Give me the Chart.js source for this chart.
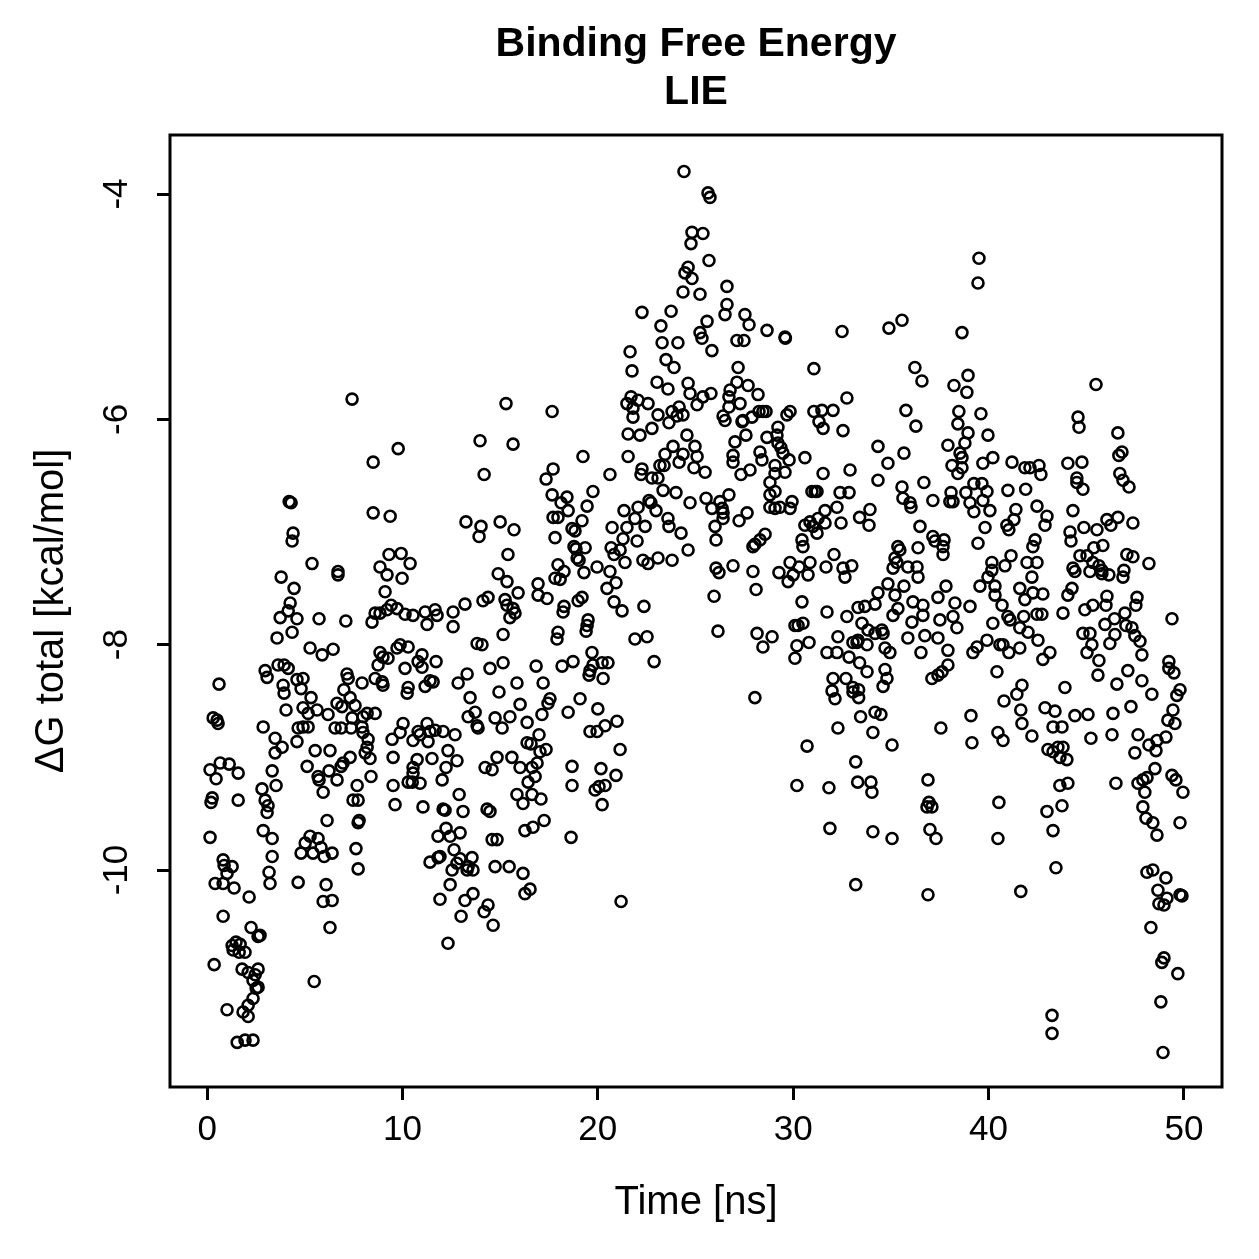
<!DOCTYPE html>
<html>
<head>
<meta charset="utf-8">
<script src="https://cdn.jsdelivr.net/npm/chart.js@4/dist/chart.umd.min.js"></script>
<style>
	html, body { margin: 0; padding: 0; background: #fff; }
	canvas { display: block; }
</style>
</head>
<body>
<canvas id="lie" width="1259" height="1259"></canvas>
<script>
// Titles and ticks
const titleLines = [ 'Binding Free Energy', 'LIE' ];
const xTitle = 'Time [ns]';
const yTitle = '\u0394G total [kcal/mol]';
const xTicks = [ 0, 10, 20, 30, 40, 50 ];
const yTicks = [ -10, -8, -6, -4 ];

// [time (ns), dG total (kcal/mol)], in time slices
const run00to08 = [
	[0.61,-8.35],[0.31,-8.65],[0.51,-8.67],[0.56,-8.70],[0.15,-9.11],[0.67,-9.05],[1.13,-9.06],[1.59,-9.14],[0.46,-9.19],[0.26,-9.36],
	[0.2,-9.4],[1.59,-9.38],[0.15,-9.71],[0.82,-9.91],[0.87,-9.96],[1.28,-9.97],[1.02,-10.03],[0.41,-10.12],[0.82,-10.12],[1.38,-10.16],
	[2.15,-10.24],[0.82,-10.41],[2.25,-10.51],[2.61,-10.59],[2.71,-10.58],[1.28,-10.67],[1.48,-10.64],[1.69,-10.66],[1.33,-10.71],[1.64,-10.73],
	[1.94,-10.73],[0.36,-10.84],[1.79,-10.88],[2.1,-10.91],[2.61,-10.88],[2.46,-10.93],[2.35,-10.98],[2.61,-11.04],[2.51,-11.05],[2.35,-11.14],
	[2.1,-11.2],[1.02,-11.24],[1.84,-11.26],[2.1,-11.3],[1.54,-11.53],[1.94,-11.51],[2.35,-11.51],
	[7.42,-5.82],[4.2,-6.73],[4.3,-6.74],[4.4,-7.01],[4.35,-7.08],[5.37,-7.28],[6.7,-7.35],[6.7,-7.38],[3.79,-7.40],[4.45,-7.5],
	[4.25,-7.63],[4.15,-7.70],[3.74,-7.76],[4.6,-7.77],[5.73,-7.77],[7.1,-7.79],[3.58,-7.94],[4.35,-7.89],[5.27,-8.03],[5.89,-8.09],
	[6.45,-8.04],[2.97,-8.23],[3.07,-8.29],[3.63,-8.18],[3.94,-8.18],[4.15,-8.21],[4.6,-8.31],[4.91,-8.30],[3.89,-8.36],[3.94,-8.43],
	[4.81,-8.39],[5.32,-8.47],[7.16,-8.26],[7.22,-8.30],[7.93,-8.34],[7.0,-8.40],[7.32,-8.47],[6.65,-8.52],[6.9,-8.55],[7.57,-8.54],
	[7.42,-8.65],[4.91,-8.56],[5.17,-8.61],[5.63,-8.58],[6.19,-8.62],[4.04,-8.58],[2.87,-8.73],[4.66,-8.74],[4.91,-8.73],[5.17,-8.73],
	[6.55,-8.74],[6.86,-8.74],[7.37,-8.74],[7.93,-8.73],[3.48,-8.83],[3.84,-8.91],[3.48,-8.96],[4.6,-8.86],[5.53,-8.94],[6.29,-8.94],
	[7.32,-9.0],[6.96,-9.05],[6.86,-9.08],[5.12,-9.08],[6.24,-9.12],[5.68,-9.17],[5.73,-9.2],[6.65,-9.2],[5.94,-9.31],[3.33,-9.12],
	[3.53,-9.25],[2.81,-9.28],[2.97,-9.38],[3.12,-9.43],[3.07,-9.49],[7.68,-9.25],[7.47,-9.38],[7.73,-9.38],[7.78,-9.56],[7.73,-9.58],
	[6.14,-9.56],[2.87,-9.65],[3.33,-9.72],[3.33,-9.88],[3.17,-10.02],[3.22,-10.12],[5.27,-9.70],[5.02,-9.76],[5.68,-9.72],[5.83,-9.80],
	[4.81,-9.85],[5.42,-9.85],[5.99,-9.88],[6.4,-9.85],[7.62,-9.81],[7.73,-9.99],[4.66,-10.11],[6.09,-10.13],[5.94,-10.28],[6.4,-10.27],
	[6.29,-10.51],[5.48,-10.99]
];
const run08to16 = [
	[15.3,-5.86],[9.78,-6.26],[8.5,-6.38],[13.97,-6.19],[15.66,-6.22],[14.18,-6.49],[8.5,-6.83],[9.37,-6.86],[13.25,-6.91],[14.02,-6.95],
	[13.92,-7.04],[15.0,-6.91],[15.71,-6.98],[15.4,-7.20],[9.31,-7.20],[9.93,-7.19],[10.39,-7.28],[8.85,-7.31],[9.21,-7.38],[9.98,-7.41],
	[9.11,-7.53],[14.9,-7.37],[15.35,-7.44],[15.92,-7.54],[13.2,-7.64],[14.12,-7.61],[14.38,-7.58],[15.25,-7.60],[15.35,-7.65],[15.66,-7.68],
	[15.76,-7.72],[12.59,-7.71],[11.67,-7.69],[11.16,-7.71],[11.77,-7.74],[10.54,-7.74],[10.13,-7.73],[9.72,-7.68],[9.42,-7.65],[9.21,-7.69],
	[8.6,-7.72],[8.85,-7.72],[8.44,-7.80],[11.26,-7.82],[12.59,-7.84],[15.5,-7.76],[15.15,-7.91],
	[8.85,-8.07],[9.0,-8.11],[9.26,-8.12],[8.75,-8.18],[9.72,-8.03],[9.88,-8.0],[10.29,-8.02],[10.13,-8.21],[10.8,-8.15],[11.0,-8.09],
	[11.0,-8.2],[11.72,-8.15],[8.6,-8.3],[8.96,-8.33],[9.0,-8.36],[10.29,-8.38],[10.24,-8.43],[11.16,-8.37],[11.41,-8.32],[11.57,-8.33],
	[12.85,-8.34],[13.31,-8.26],[13.46,-8.47],[13.72,-8.60],[13.36,-8.64],[13.82,-8.72],[13.87,-8.74],[13.82,-7.99],[14.07,-8.0],[14.48,-8.21],
	[15.15,-8.16],[14.94,-8.42],[15.86,-8.34],[16.02,-8.53],[16.38,-8.69],[15.5,-8.64],[14.74,-8.65],[15.1,-8.74],
	[8.19,-8.61],[8.6,-8.61],[7.98,-8.64],[7.98,-8.78],[8.24,-8.84],[8.19,-8.91],[8.09,-8.96],[8.34,-9.01],[8.39,-9.17],
	[10.03,-8.70],[9.88,-8.78],[9.47,-8.84],[10.54,-8.85],[10.8,-8.77],[10.9,-8.80],[11.26,-8.70],[11.41,-8.77],[11.67,-8.76],[11.31,-8.86],
	[12.08,-8.77],[12.69,-8.80],[12.33,-8.94],[12.79,-9.03],[12.23,-9.09],[12.03,-9.20],[11.51,-9.01],[10.75,-9.02],[9.52,-9.0],[10.54,-9.09],
	[10.54,-9.14],[10.29,-9.22],[10.5,-9.22],[10.9,-9.23],[9.52,-9.25],[9.62,-9.42],[11.05,-9.44],[12.08,-9.46],[12.18,-9.47],[12.9,-9.33],
	[13.1,-9.48],[14.33,-9.46],[14.48,-9.48],[11.82,-9.70],[12.23,-9.63],[12.44,-9.70],[12.95,-9.67],[12.64,-9.82],[11.92,-9.88],[11.82,-9.89],
	[11.41,-9.93],[12.95,-9.90],[12.79,-9.94],[12.54,-10.0],[13.31,-10.0],[13.56,-9.89],[13.61,-10.0],[13.36,-9.97],[14.59,-9.73],[14.84,-9.73],
	[14.74,-9.97],[15.46,-9.97],[16.17,-10.03],[16.27,-10.21],[16.53,-10.17],[12.44,-10.13],[11.92,-10.26],[13.2,-10.27],[13.61,-10.21],[13.0,-10.41],
	[14.38,-10.31],[14.18,-10.37],[14.64,-10.49],[12.33,-10.65],[14.23,-9.09],[14.59,-9.11],[14.84,-9.0],
	[15.6,-9.0],[16.02,-9.09],[16.38,-8.87],[15.86,-9.33],[16.17,-9.41],[16.27,-9.65],[16.43,-9.22],[16.89,-9.05],[16.63,-9.09],[16.79,-9.17],
	[16.63,-9.33],[17.09,-9.37],[17.25,-9.56],[16.68,-9.62]
];
const run16to25 = [
	[24.41,-3.80],[24.82,-4.34],[24.77,-4.44],[24.62,-4.65],[24.46,-4.70],[24.82,-4.75],[24.36,-4.87],[22.26,-5.05],[23.75,-5.04],[23.23,-5.17],
	[23.29,-5.32],[24.1,-5.32],[21.65,-5.40],[21.75,-5.57],[23.49,-5.47],[23.9,-5.54],[23.03,-5.67],[23.59,-5.73],[24.62,-5.68],[24.72,-5.77],
	[21.7,-5.80],[21.49,-5.86],[22.06,-5.83],[22.57,-5.86],[21.8,-5.90],[21.8,-5.98],[23.08,-5.96],[23.8,-5.93],[24.16,-5.89],[24.05,-5.97],
	[24.36,-5.96],[23.64,-6.03],[22.77,-6.08],[21.55,-6.13],[22.16,-6.14],[24.56,-6.14],[24.97,-6.24],[23.85,-6.24],[23.44,-6.31],[24.36,-6.31],
	[24.16,-6.38],[24.92,-6.43],[21.55,-6.33],[19.24,-6.33],[17.66,-5.93],[17.71,-6.44],[17.35,-6.53],[20.62,-6.49],[22.26,-6.44],[22.21,-6.49],
	[22.77,-6.52],[23.18,-6.41],[23.39,-6.41],[23.08,-6.52],[23.34,-6.63],[24.0,-6.65],[24.72,-6.74],[19.75,-6.64],[17.66,-6.67],[18.42,-6.69],
	[18.12,-6.74],[18.48,-6.81],[17.71,-6.87],[17.96,-6.87],[19.45,-6.77],[19.19,-6.90],[18.68,-6.97],[18.83,-6.99],[17.81,-7.05],[18.78,-7.13],
	[18.88,-7.15],[19.35,-7.14],[18.94,-7.23],[19.04,-7.25],[17.96,-7.29],[18.27,-7.35],[17.81,-7.41],[18.07,-7.42],[19.29,-7.36],[19.96,-7.31],
	[16.94,-7.46],[16.94,-7.56],[17.4,-7.59],[18.27,-7.66],[18.22,-7.71],[18.99,-7.61],[19.19,-7.58],[19.5,-7.78],[21.34,-6.81],[22.06,-6.78],
	[22.62,-6.72],[22.72,-6.74],[22.98,-6.81],[23.59,-6.88],[23.64,-6.95],[24.26,-7.01],[24.62,-7.16],[21.9,-6.88],[21.49,-6.96],[22.42,-6.95],
	[20.73,-6.96],[21.29,-7.06],[22.01,-7.08],[20.68,-7.14],[20.83,-7.20],[21.14,-7.16],[21.39,-7.27],[22.31,-7.25],[22.57,-7.28],[23.08,-7.23],
	[23.8,-7.25],[20.62,-7.35],[20.47,-7.5],[20.93,-7.45],[20.83,-7.62],[21.24,-7.70],[22.36,-7.66],
	[19.45,-7.83],[19.4,-7.88],[17.96,-7.89],[17.91,-7.95],[21.9,-7.95],[22.52,-7.93],[19.7,-8.07],[22.88,-8.15],[16.84,-8.19],[18.17,-8.19],
	[18.73,-8.15],[19.75,-8.18],[19.6,-8.23],[19.55,-8.27],[20.22,-8.16],[20.52,-8.16],[20.27,-8.30],[17.2,-8.34],[17.55,-8.48],[17.45,-8.52],
	[17.14,-8.62],[18.48,-8.60],[19.09,-8.48],[20.0,-8.57],[20.98,-8.68],[20.37,-8.72],[19.6,-8.77],[19.96,-8.77],[16.58,-8.88],[16.99,-8.80],
	[17.04,-8.95],[17.35,-8.93],[21.14,-8.93],[18.68,-9.08],[18.68,-9.25],[20.16,-9.10],[20.93,-9.16],[19.86,-9.29],[20.06,-9.26],[20.37,-9.25],
	[20.22,-9.42],[18.63,-9.71],[21.19,-10.28]
];
const run25to33 = [
	[25.64,-3.99],[25.74,-4.03],[25.38,-4.35],[25.69,-4.59],[25.23,-4.89],[26.61,-4.82],[26.61,-4.98],[26.51,-5.07],[27.53,-5.07],[27.74,-5.16],
	[28.66,-5.21],[29.58,-5.27],[29.6,-5.28],[32.5,-5.22],[25.59,-5.13],[25.23,-5.23],[25.33,-5.28],[25.84,-5.39],[27.12,-5.30],[27.48,-5.30],
	[27.18,-5.54],[31.06,-5.55],[25.08,-5.87],[25.38,-5.80],[25.79,-5.77],[27.12,-5.67],[27.69,-5.70],[28.2,-5.78],[26.71,-5.80],[26.77,-5.74],
	[27.28,-5.86],[26.71,-5.89],[26.41,-5.97],[26.51,-6.01],[27.38,-6.02],[27.43,-6.01],[27.89,-5.98],[28.25,-5.93],[28.45,-5.93],[28.61,-5.93],
	[29.22,-6.07],[29.68,-5.96],[29.84,-5.93],[31.06,-5.93],[31.47,-5.92],[31.32,-6.02],[31.53,-6.08],[32.04,-5.92],[32.75,-5.81],[32.55,-6.10],
	[25.08,-6.33],[25.49,-6.47],[27.02,-6.20],[27.58,-6.14],[28.66,-6.16],[29.17,-6.14],[29.22,-6.21],[29.37,-6.25],[29.48,-6.30],[28.3,-6.29],
	[28.4,-6.36],[26.92,-6.32],[26.92,-6.38],[27.33,-6.49],[27.79,-6.45],[29.07,-6.41],[29.79,-6.36],[29.07,-6.48],[29.58,-6.47],[30.6,-6.34],
	[31.53,-6.48],[32.91,-6.45],[28.81,-6.56],[29.07,-6.64],[28.81,-6.67],[28.81,-6.78],[29.07,-6.79],[29.32,-6.78],[29.84,-6.79],[29.94,-6.73],
	[30.96,-6.64],[31.12,-6.64],[31.22,-6.64],[32.4,-6.65],[32.86,-6.65],[25.54,-6.70],[26.25,-6.73],[26.36,-6.79],[26.41,-6.83],[26.71,-6.67],
	[25.84,-6.79],[26.41,-6.88],[26.0,-6.95],[27.23,-6.90],[27.64,-6.83],[26.05,-7.07],[30.6,-6.94],[30.86,-6.91],[31.01,-6.95],[31.27,-6.88],
	[31.63,-6.81],[31.63,-6.92],[31.22,-7.01],[32.24,-6.78],[32.45,-6.92],[33.4,-6.87],[27.94,-7.13],[28.04,-7.11],[28.3,-7.07],[28.56,-7.02],
	[30.45,-7.07],[30.5,-7.13],[26.05,-7.32],[26.2,-7.36],[26.92,-7.30],[27.94,-7.35],[28.1,-7.51],[25.95,-7.57],[29.27,-7.36],[29.84,-7.27],
	[30.0,-7.38],[30.3,-7.31],[30.76,-7.38],[30.86,-7.27],[29.74,-7.44],[31.68,-7.31],[32.09,-7.20],[32.55,-7.32],[32.65,-7.40],[33.0,-7.30],
	[30.45,-7.62],[31.73,-7.71],[32.75,-7.75],[33.32,-7.67],
	[26.15,-7.88],[28.15,-7.90],[28.92,-7.93],[28.45,-8.02],[30.09,-7.83],[30.25,-7.83],[30.5,-7.81],[30.19,-8.01],[30.81,-7.98],[30.09,-8.12],
	[31.73,-8.07],[32.24,-8.07],[32.29,-7.93],[32.86,-8.11],[33.06,-7.98],[33.27,-7.98],[33.4,-8.16],[32.04,-8.30],[32.7,-8.30],[31.99,-8.41],
	[32.14,-8.48],[33.06,-8.38],[33.06,-8.42],[33.35,-8.47],[28.04,-8.47],[32.29,-8.74],[33.45,-8.64],[30.71,-8.90],[33.2,-9.04],[33.3,-9.22],
	[30.19,-9.25],[31.83,-9.27],[31.88,-9.63],[33.2,-10.13]
];
const run33to42 = [
	[39.51,-4.57],[39.46,-4.79],[34.9,-5.19],[35.57,-5.12],[38.64,-5.23],[36.23,-5.54],[36.59,-5.66],[38.95,-5.61],[38.23,-5.70],[38.89,-5.76],
	[35.77,-5.92],[36.28,-6.06],[38.48,-5.93],[38.43,-6.04],[39.61,-5.95],[38.95,-6.12],[39.97,-6.14],[38.79,-6.21],[37.92,-6.23],[34.34,-6.24],
	[35.67,-6.30],[34.85,-6.39],[38.54,-6.30],[38.64,-6.34],[38.13,-6.41],[38.64,-6.43],[38.43,-6.48],[39.71,-6.39],[40.22,-6.34],[41.2,-6.38],
	[41.86,-6.43],[34.34,-6.54],[36.69,-6.56],[35.57,-6.60],[35.62,-6.70],[35.98,-6.74],[36.03,-6.78],[37.15,-6.72],[38.08,-6.65],[38.02,-6.73],
	[38.18,-6.73],[38.84,-6.65],[39.25,-6.57],[39.66,-6.57],[39.92,-6.64],[39.05,-6.74],[39.25,-6.82],[39.71,-6.72],[40.07,-6.81],[40.99,-6.63],
	[41.9,-6.62],[33.93,-6.80],[33.88,-6.94],[36.49,-6.95],[37.15,-7.04],[37.26,-7.08],[37.72,-7.07],[37.67,-7.13],[37.67,-7.20],[39.82,-6.96],
	[39.46,-7.10],[40.94,-6.94],[41.04,-6.98],[41.3,-6.89],[41.4,-6.80],[41.15,-7.21],[40.84,-7.30],[40.17,-7.27],[40.17,-7.34],[39.97,-7.40],
	[40.33,-7.48],[40.33,-7.56],[40.69,-7.65],[39.56,-7.48],[39.05,-7.66],[38.28,-7.63],[37.82,-7.48],[37.41,-7.58],[36.39,-7.14],[36.39,-7.40],
	[36.34,-7.31],[35.87,-7.31],[35.36,-7.13],[35.46,-7.16],[35.21,-7.23],[35.11,-7.32],[35.31,-7.27],[35.67,-7.48],[34.85,-7.46],[34.34,-7.54],
	[33.67,-7.66],[34.19,-7.64],[35.21,-7.56],[35.36,-7.68],[36.13,-7.62],[36.64,-7.65],[41.6,-7.50],[40.99,-7.75],
	[35.11,-7.74],[36.08,-7.80],[36.64,-7.74],[37.51,-7.78],[38.18,-7.75],[38.38,-7.85],[40.22,-7.81],[41.1,-7.78],[41.6,-7.85],[41.8,-7.75],
	[33.52,-7.81],[33.83,-7.87],[34.19,-7.90],[34.54,-7.87],[34.6,-7.90],[33.32,-7.96],[33.78,-8.0],[34.7,-8.03],[34.95,-8.07],[35.87,-7.94],
	[36.74,-7.92],[37.41,-7.94],[36.54,-8.07],[37.92,-8.05],[39.2,-8.07],[39.41,-8.02],[39.92,-7.96],[40.58,-8.0],[40.74,-8.0],[41.04,-8.07],
	[41.6,-8.03],[33.78,-8.24],[34.7,-8.22],[34.8,-8.30],[34.6,-8.37],[33.35,-8.40],[37.1,-8.30],[37.41,-8.27],[37.62,-8.24],[37.92,-8.18],
	[40.43,-8.24],[40.79,-8.50],[41.45,-8.44],[41.71,-8.36],[41.65,-8.58],[41.71,-8.70],[34.19,-8.60],[34.49,-8.62],[34.08,-8.78],[35.06,-8.89],
	[37.56,-8.74],[39.1,-8.63],[39.15,-8.87],[40.48,-8.78],[40.74,-8.85],[33.98,-9.22],[34.03,-9.31],[36.9,-9.20],[36.95,-9.40],[36.85,-9.44],
	[37.1,-9.44],[40.53,-9.40],[34.08,-9.66],[35.06,-9.72],[37.0,-9.64],[37.31,-9.72],[40.48,-9.72],[36.9,-10.22],[41.65,-10.19]
];
const run42to50 = [
	[45.5,-5.69],[44.58,-5.98],[44.63,-6.07],[46.62,-6.12],[46.83,-6.29],[46.67,-6.32],[42.12,-6.43],[42.58,-6.41],[42.68,-6.49],[44.06,-6.39],
	[44.78,-6.38],[44.52,-6.52],[44.52,-6.56],[44.83,-6.62],[46.72,-6.48],[46.88,-6.54],[47.19,-6.60],[42.48,-6.77],[42.99,-6.86],[42.89,-6.94],
	[44.32,-6.81],[44.17,-7.0],[44.22,-7.08],[44.88,-6.96],[45.55,-6.98],[46.06,-6.89],[46.26,-6.94],[46.62,-6.87],[47.39,-6.92],[42.38,-7.07],
	[42.27,-7.13],[45.85,-7.12],[45.39,-7.14],[44.68,-7.21],[45.04,-7.21],[45.34,-7.27],[45.65,-7.30],[45.8,-7.34],[45.8,-7.37],[46.16,-7.38],
	[47.08,-7.20],[47.39,-7.22],[48.21,-7.28],[46.93,-7.34],[46.88,-7.40],[44.32,-7.32],[44.42,-7.35],[45.19,-7.35],[41.97,-7.27],[42.48,-7.27],
	[42.22,-7.40],[42.27,-7.54],[42.78,-7.55],[41.86,-7.60],[44.06,-7.56],[44.27,-7.50],[46.06,-7.57],[46.01,-7.65],[45.34,-7.65],[44.93,-7.69],
	[47.6,-7.58],[47.54,-7.65],[43.81,-7.72],[42.48,-7.73],[42.73,-7.73],[49.39,-7.77],[46.98,-7.72],[46.45,-7.77],
	[42.02,-7.89],[42.53,-7.96],[43.14,-8.07],[42.78,-8.13],[45.96,-7.82],[47.03,-7.83],[47.34,-7.85],[47.49,-7.92],[47.75,-7.97],[47.85,-8.09],
	[44.83,-7.90],[45.19,-7.90],[45.29,-8.0],[45.04,-8.07],[45.65,-8.14],[45.6,-8.27],[46.21,-7.99],[46.47,-7.91],[46.57,-8.35],[47.13,-8.23],
	[47.85,-8.32],[48.36,-8.44],[49.23,-8.15],[49.23,-8.21],[49.49,-8.25],[49.8,-8.40],[49.64,-8.45],[49.44,-8.58],[49.18,-8.67],[49.54,-8.70],
	[42.22,-8.81],[43.91,-8.38],[42.89,-8.56],[43.4,-8.59],[44.42,-8.63],[45.09,-8.62],[46.37,-8.61],[47.29,-8.55],[46.32,-8.80],[45.24,-8.83],
	[47.65,-8.80],[43.3,-8.73],[43.76,-8.73],[43.04,-8.93],[43.3,-8.95],[43.55,-8.91],[43.81,-8.91],[44.01,-9.02],[43.65,-9.0],[47.49,-8.96],
	[48.21,-8.89],[48.57,-8.94],[48.62,-8.85],[49.08,-8.82],[48.52,-9.10],[49.39,-9.16],[49.59,-9.20],[49.95,-9.31],[43.65,-9.25],[44.06,-9.23],
	[46.52,-9.23],[47.65,-9.23],[47.9,-9.20],[48.11,-9.18],[48.0,-9.31],[47.9,-9.44],[48.06,-9.54],[48.41,-9.58],[48.62,-9.69],[49.8,-9.58],
	[42.99,-9.48],[43.76,-9.43],[43.3,-9.65],[43.45,-9.98],[48.11,-10.02],[48.41,-10.0],[49.08,-10.07],[48.67,-10.18],[49.13,-10.25],[48.72,-10.30],
	[48.98,-10.31],[49.8,-10.22],[49.9,-10.23],[48.31,-10.51],[48.87,-10.82],[48.98,-10.78],[49.69,-10.92],[48.82,-11.17],[43.25,-11.29],[43.25,-11.45],
	[48.93,-11.62]
];

const allRuns = [ run00to08, run08to16, run16to25, run25to33, run33to42, run42to50 ];

// box, rotated y labels and the two-line bold title, the way R draws them
const rPlotExtras = {
	id: 'rPlotExtras',
	afterDraw( chart ) {
		const { ctx, chartArea: a, scales } = chart;
		ctx.save();
		ctx.strokeStyle = '#000';
		ctx.lineWidth = 3;
		ctx.strokeRect( a.left, a.top, a.right - a.left, a.bottom - a.top );

		ctx.fillStyle = '#000';
		ctx.textAlign = 'center';
		ctx.textBaseline = 'middle';
		ctx.font = '35px "Liberation Sans", Arial, sans-serif';
		yTicks.forEach( function( v ) {
			ctx.save();
			ctx.translate( a.left - 53, scales.y.getPixelForValue( v ) );
			ctx.rotate( -Math.PI / 2 );
			ctx.fillText( String( v ), 0, 0 );
			ctx.restore();
		} );

		ctx.font = 'bold 41px "Liberation Sans", Arial, sans-serif';
		const cx = ( a.left + a.right ) / 2;
		titleLines.forEach( function( t, i ) {
			ctx.fillText( t, cx, 45 + i * 48 );
		} );
		ctx.restore();
	}
};

Chart.defaults.font.family = '"Liberation Sans", Arial, sans-serif';
Chart.defaults.color = '#000';

new Chart( document.getElementById( 'lie' ), {
	type: 'scatter',
	data: {
		datasets: [ {
			data: allRuns.flat().map( p => ( { x: p[0], y: p[1] } ) ),
			pointStyle: 'circle',
			pointRadius: 5.5,
			pointBorderWidth: 2.6,
			pointBorderColor: '#000',
			pointBackgroundColor: 'rgba(0,0,0,0)',
			showLine: false
		} ]
	},
	options: {
		responsive: false,
		animation: false,
		devicePixelRatio: 1,
		layout: { padding: { top: 135, right: 37, left: 0, bottom: 0 } },
		plugins: {
			legend: { display: false },
			tooltip: { enabled: false }
		},
		scales: {
			x: {
				type: 'linear',
				min: -1.9,
				max: 51.95,
				afterBuildTicks: s => { s.ticks = xTicks.map( v => ( { value: v } ) ); },
				afterFit: s => { s.height = 172; },
				border: { display: false },
				grid: { drawOnChartArea: false, drawTicks: true, tickLength: 13, color: '#000', lineWidth: 3 },
				ticks: { font: { size: 35 }, padding: 9, maxRotation: 0, color: '#000' },
				title: { display: true, text: xTitle, font: { size: 40 }, padding: { top: 0, bottom: 32 } }
			},
			y: {
				type: 'linear',
				min: -11.926,
				max: -3.476,
				afterBuildTicks: s => { s.ticks = yTicks.map( v => ( { value: v } ) ); },
				afterFit: s => { s.width = 170; },
				border: { display: false },
				grid: { drawOnChartArea: false, drawTicks: true, tickLength: 13, color: '#000', lineWidth: 3 },
				ticks: { display: false },
				title: { display: true, text: yTitle, font: { size: 40 }, padding: { top: 28, bottom: 0 } }
			}
		}
	},
	plugins: [ rPlotExtras ]
} );
</script>
</body>
</html>
